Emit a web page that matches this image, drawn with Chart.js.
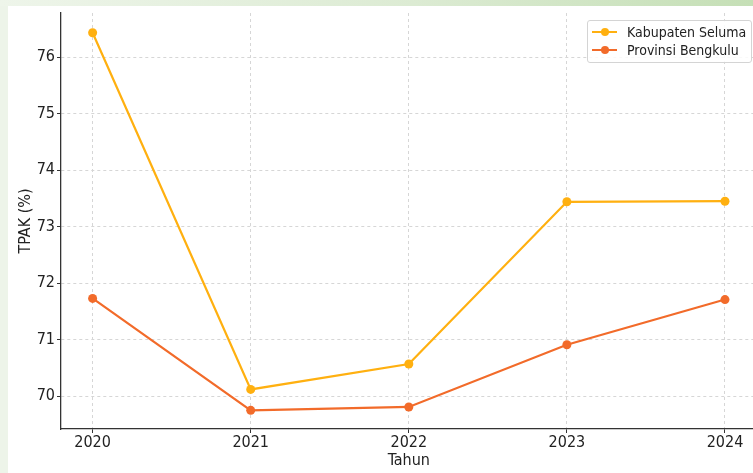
<!DOCTYPE html>
<html>
<head>
<meta charset="utf-8">
<script src="https://cdn.jsdelivr.net/npm/chart.js@4.4.1/dist/chart.umd.min.js"></script>
<style>
  html, body { margin: 0; padding: 0; }
  body {
    width: 753px; height: 473px; overflow: hidden; position: relative;
    background: #edf4e9;
    font-family: "DejaVu Sans Condensed", "DejaVu Sans", sans-serif;
  }
  #topband {
    position: absolute; left: 0; top: 0; width: 753px; height: 6px;
    background: linear-gradient(to right, #eef5ea 0%, #dcebd3 55%, #c5dfb6 100%);
  }
  #panel {
    position: absolute; left: 8px; top: 6px; width: 760px; height: 480px;
    background: #ffffff;
  }
  #wrap { position: absolute; left: 0; top: 0; width: 780px; height: 473px; }
  #legend {
    position: absolute; left: 587px; top: 20px; width: 163px; height: 41px;
    border: 1px solid #d4d4d4; border-radius: 3px; background: rgba(255,255,255,0.85);
    font-size: 14px; color: #222;
  }
  .item { position: absolute; left: 4px; height: 18px; line-height: 18px; white-space: nowrap; }
  .sw { position: absolute; left: 0; top: 8px; width: 25px; height: 2px; }
  .dot { position: absolute; left: 8.5px; top: -3px; width: 8px; height: 8px; border-radius: 50%; }
  .lab { position: absolute; left: 35px; top: 0; }
</style>
</head>
<body>
<div id="topband"></div>
<div id="panel"></div>
<div id="wrap"><canvas id="myChart" width="780" height="473"></canvas></div>
<div id="legend"></div>
<script>
const years = [2020, 2021, 2022, 2023, 2024];
const seluma = [76.43, 70.12, 70.57, 73.44, 73.45];
const bengkulu = [71.73, 69.75, 69.81, 70.91, 71.71];
const yTicks = [70, 71, 72, 73, 74, 75, 76];
const seriesNames = ["Kabupaten Seluma", "Provinsi Bengkulu"];
const seriesColors = ["#ffb010", "#f26b2a"];

function toPoints(vals) {
  return years.map((yr, i) => ({ x: yr, y: vals[i] }));
}

const datasets = [seluma, bengkulu].map((vals, i) => ({
  label: seriesNames[i],
  data: toPoints(vals),
  borderColor: seriesColors[i],
  backgroundColor: seriesColors[i],
  borderWidth: 2.2,
  pointRadius: 4.5,
  pointHoverRadius: 4.5,
  pointBorderWidth: 0,
  tension: 0,
  fill: false
}));

// legend as html, built from the datasets
let legend = document.getElementById("legend");
datasets.forEach((ds, i) => {
  let item = document.createElement("div");
  item.className = "item";
  item.style.top = (2 + i * 18) + "px";
  item.innerHTML = '<span class="sw" style="background:' + ds.borderColor + '"><span class="dot" style="background:' +
    ds.borderColor + '"></span></span><span class="lab">' + ds.label + '</span>';
  legend.appendChild(item);
});

const tickFont = { family: "DejaVu Sans Condensed", size: 16 };
const gridOpts = { color: "#d6d6d6", lineWidth: 1, tickColor: "#333333", tickLength: 4, drawTicks: true };

var ctx = document.getElementById("myChart").getContext("2d");
var chart = new Chart(ctx, {
  type: "line",
  data: { datasets: datasets },
  options: {
    responsive: false,
    animation: false,
    layout: { padding: { top: 13, right: 23.4, left: 0, bottom: 0 } },
    plugins: { legend: { display: false }, tooltip: { enabled: false } },
    scales: {
      x: {
        type: "linear",
        min: 2019.8,
        max: 2024.2,
        afterBuildTicks: (s) => { s.ticks = years.map((v) => ({ value: v })); },
        afterFit: (s) => { s.height = 44; },
        grid: gridOpts,
        border: { display: true, color: "#333333", width: 1.3, dash: [3, 3] },
        ticks: { font: tickFont, color: "#222222", padding: 0, maxRotation: 0, callback: (v) => String(v) },
        title: { display: true, text: "Tahun", font: tickFont, color: "#222222", padding: { top: 0, bottom: 3 } }
      },
      y: {
        min: 69.42,
        max: 76.78,
        afterBuildTicks: (s) => { s.ticks = yTicks.map((v) => ({ value: v })); },
        afterFit: (s) => { s.width = 61; },
        grid: gridOpts,
        border: { display: true, color: "#333333", width: 1.3, dash: [3, 3] },
        ticks: { font: tickFont, color: "#222222", padding: 2, callback: (v) => String(v) },
        title: { display: true, text: "TPAK (%)", font: tickFont, color: "#222222", padding: { top: 16, bottom: 0 } }
      }
    }
  }
});
</script>
</body>
</html>
